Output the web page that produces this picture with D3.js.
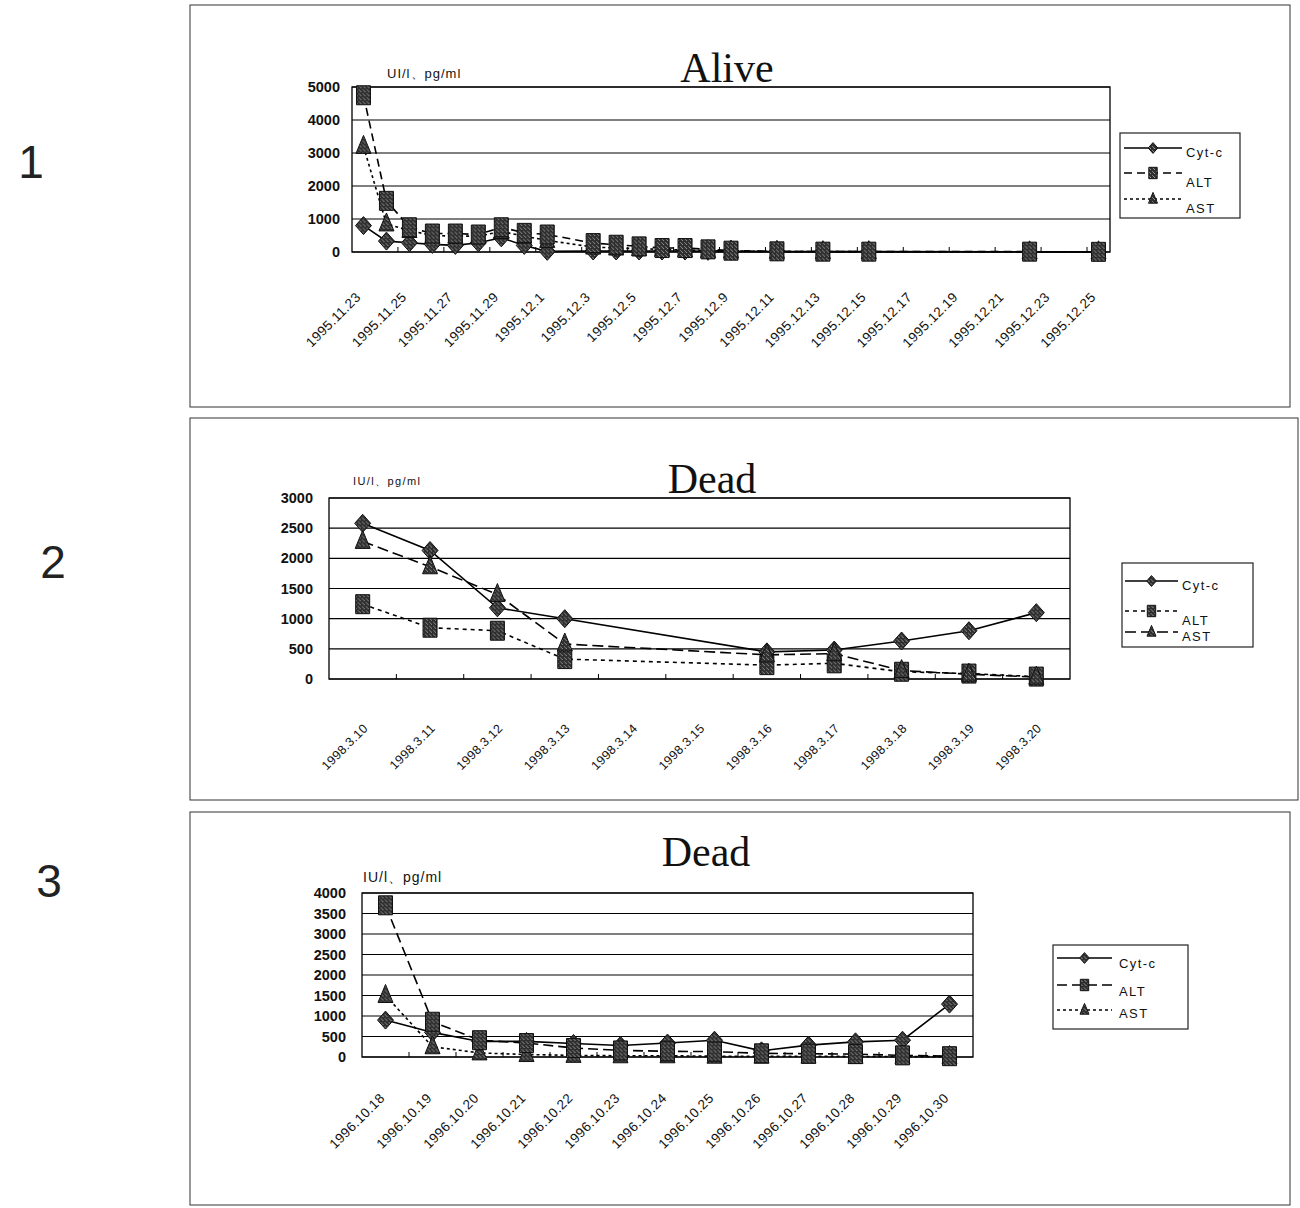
<!DOCTYPE html>
<html>
<head>
<meta charset="utf-8">
<script src="https://cdn.jsdelivr.net/npm/d3@7"></script>
<style>
  body { margin: 0; background: #fff; }
  svg { display: block; }
</style>
</head>
<body>
<svg id="chart" width="1300" height="1208"></svg>
<script>
// ---------- Case 1: Alive ----------
const aliveDates = ["1995.11.23","1995.11.24","1995.11.25","1995.11.26","1995.11.27","1995.11.28","1995.11.29","1995.11.30",
  "1995.12.1","1995.12.2","1995.12.3","1995.12.4","1995.12.5","1995.12.6","1995.12.7","1995.12.8","1995.12.9","1995.12.10",
  "1995.12.11","1995.12.12","1995.12.13","1995.12.14","1995.12.15","1995.12.16","1995.12.17","1995.12.18","1995.12.19",
  "1995.12.20","1995.12.21","1995.12.22","1995.12.23","1995.12.24","1995.12.25"];
const aliveTickLabels = ["1995.11.23","1995.11.25","1995.11.27","1995.11.29","1995.12.1","1995.12.3","1995.12.5","1995.12.7",
  "1995.12.9","1995.12.11","1995.12.13","1995.12.15","1995.12.17","1995.12.19","1995.12.21","1995.12.23","1995.12.25"];
const aliveCytc = [800,330,280,230,200,280,430,200,20, null, 30,30,30,30,30,20,20, null, 10, null, 10, null, 10,
  null,null,null,null,null,null, 5, null,null, 5];
const aliveALT  = [4750,1550,750,560,560,530,750,580,530, null, 270,220,170,120,120,80,40, null, 20, null, 10, null, 10,
  null,null,null,null,null,null, 10, null,null, 5];
const aliveAST  = [3200,850,650,500,480,480,620,480,350, null, 150,120,100,80,60,40,30, null, 20, null, 10, null, 10,
  null,null,null,null,null,null, 5, null,null, 5];
const aliveYTicks = [0,1000,2000,3000,4000,5000];

// ---------- Case 2: Dead (1998) ----------
const dead2Dates = ["1998.3.10","1998.3.11","1998.3.12","1998.3.13","1998.3.14","1998.3.15","1998.3.16","1998.3.17",
  "1998.3.18","1998.3.19","1998.3.20"];
const dead2Cytc = [2580,2130,1180,1000,null,null,450,480,630,800,1100];
const dead2ALT  = [1240,850,800,330,null,null,230,260,120,90,40];
const dead2AST  = [2280,1860,1400,580,null,null,400,420,140,80,30];
const dead2YTicks = [0,500,1000,1500,2000,2500,3000];

// ---------- Case 3: Dead (1996) ----------
const dead3Dates = ["1996.10.18","1996.10.19","1996.10.20","1996.10.21","1996.10.22","1996.10.23","1996.10.24",
  "1996.10.25","1996.10.26","1996.10.27","1996.10.28","1996.10.29","1996.10.30"];
const dead3Cytc = [900,600,380,380,330,280,340,410,150,290,370,410,1290];
const dead3ALT  = [3700,860,410,340,220,160,140,130,90,80,70,40,20];
const dead3AST  = [1500,250,100,60,40,30,30,20,20,20,15,10,10];
const dead3YTicks = [0,500,1000,1500,2000,2500,3000,3500,4000];

const seriesNames = ["Cyt-c","ALT","AST"];

const svg = d3.select("#chart");
svg.append("rect").attr("width",1300).attr("height",1208).attr("fill","#fff");

// grainy fill used by the markers
const defs = svg.append("defs");
const pat = defs.append("pattern").attr("id","grain").attr("width",4).attr("height",4)
  .attr("patternUnits","userSpaceOnUse");
pat.append("rect").attr("width",4).attr("height",4).attr("fill","#2e2e2e");
pat.append("rect").attr("x",1).attr("y",0).attr("width",1).attr("height",1).attr("fill","#9a9a9a");
pat.append("rect").attr("x",3).attr("y",2).attr("width",1).attr("height",1).attr("fill","#7a7a7a");
pat.append("rect").attr("x",0).attr("y",3).attr("width",1).attr("height",1).attr("fill","#8a8a8a");

const shapes = {
  diamond: (s) => `M0,${-9*s}L${8*s},0L0,${9*s}L${-8*s},0Z`,
  square:  (s) => `M${-7*s},${-9.5*s}H${7*s}V${9.5*s}H${-7*s}Z`,
  triangle:(s) => `M0,${-11*s}L${7.5*s},${7*s}L${-7.5*s},${7*s}Z`
};

function drawPanel(p) {
  const g = svg.append("g");

  // outer frame and case number
  g.append("rect").attr("x",p.frame[0]).attr("y",p.frame[1]).attr("width",p.frame[2]).attr("height",p.frame[3])
    .attr("fill","none").attr("stroke","#333").attr("stroke-width",1);
  g.append("text").attr("x",p.num[0]).attr("y",p.num[1]).attr("text-anchor","middle")
    .attr("font-family","Liberation Sans, Arial, sans-serif").attr("font-size",46).attr("fill","#222")
    .text(p.numText);

  const x = d3.scaleBand().domain(p.dates).range([p.left, p.right]).padding(0);
  const y = d3.scaleLinear().domain([0, p.yMax]).range([p.bottom, p.top]);
  const bw = x.bandwidth();
  const cx = d => x(d) + bw / 2;

  // horizontal gridlines
  g.append("g").selectAll("line").data(p.yTicks).join("line")
    .attr("x1",p.left).attr("x2",p.right).attr("y1",d=>y(d)).attr("y2",d=>y(d))
    .attr("stroke","#000").attr("stroke-width",1.1);

  // plot area border
  g.append("rect").attr("x",p.left).attr("y",p.top).attr("width",p.right-p.left).attr("height",p.bottom-p.top)
    .attr("fill","none").attr("stroke","#000").attr("stroke-width",1.3);

  // inward category tick marks on the x axis
  const tickIdx = d3.range(p.tickEvery, p.dates.length, p.tickEvery);
  g.append("g").selectAll("line").data(tickIdx).join("line")
    .attr("x1",i=>p.left+i*bw).attr("x2",i=>p.left+i*bw)
    .attr("y1",p.bottom).attr("y2",p.bottom-5).attr("stroke","#000");

  // y axis labels
  const ya = g.append("g").attr("transform",`translate(${p.left},0)`)
    .call(d3.axisLeft(y).tickValues(p.yTicks).tickSize(0).tickPadding(p.yPad).tickFormat(d3.format("d")));
  ya.select(".domain").remove();
  ya.selectAll("text").attr("font-family","Liberation Sans, Arial, sans-serif").attr("font-size",14.5)
    .attr("font-weight","bold").attr("fill","#111");

  // x axis labels, rotated
  const xa = g.append("g").attr("transform",`translate(0,${p.bottom})`)
    .call(d3.axisBottom(x).tickValues(p.tickLabels).tickSize(0));
  xa.select(".domain").remove();
  xa.selectAll("text")
    .attr("x",0).attr("y",0).attr("dy",0)
    .attr("text-anchor","end")
    .attr("transform",`translate(${p.lab[0]},${p.lab[1]}) rotate(-45)`)
    .attr("font-family","Liberation Sans, Arial, sans-serif").attr("font-size",p.labSize)
    .attr("letter-spacing",0.4).attr("fill","#111");

  // series lines
  const series = p.series;
  const line = d3.line().x(d=>cx(d.date)).y(d=>y(d.v));
  series.forEach(s => {
    const pts = p.dates.map((d,i)=>({date:d, v:s.values[i]})).filter(d=>d.v!=null);
    g.append("path").datum(pts).attr("d",line).attr("fill","none")
      .attr("stroke","#000").attr("stroke-width",1.6).attr("stroke-dasharray",s.dash);
  });

  // markers (drawn after all lines)
  p.markerOrder.forEach(k => {
    const s = series[k];
    const pts = p.dates.map((d,i)=>({date:d, v:s.values[i]})).filter(d=>d.v!=null);
    g.append("g").selectAll("path").data(pts).join("path")
      .attr("d",shapes[s.shape](1))
      .attr("transform",d=>`translate(${cx(d.date)},${y(d.v)})`)
      .attr("fill","url(#grain)").attr("stroke","#111").attr("stroke-width",1);
  });

  // title and unit
  g.append("text").attr("x",p.title[0]).attr("y",p.title[1]).attr("text-anchor","middle")
    .attr("font-family","Liberation Serif, Times New Roman, serif").attr("font-size",42).attr("fill","#111")
    .text(p.titleText);
  g.append("text").attr("x",p.unit[0]).attr("y",p.unit[1])
    .attr("font-family","Liberation Sans, Arial, sans-serif").attr("font-size",p.unitSize)
    .attr("letter-spacing",p.unitSpacing).attr("fill","#111")
    .text(p.unitText);

  // legend
  const L = p.legend;
  g.append("rect").attr("x",L.x).attr("y",L.y).attr("width",L.w).attr("height",L.h)
    .attr("fill","#fff").attr("stroke","#222").attr("stroke-width",1.2);
  series.forEach((s,i) => {
    const ly = L.rows[i];
    g.append("line").attr("x1",L.lx0).attr("x2",L.lx1).attr("y1",ly).attr("y2",ly)
      .attr("stroke","#000").attr("stroke-width",1.6).attr("stroke-dasharray",s.dash);
    g.append("path").attr("d",shapes[s.shape](0.6)).attr("transform",`translate(${(L.lx0+L.lx1)/2},${ly})`)
      .attr("fill","url(#grain)").attr("stroke","#111");
    g.append("text").attr("x",L.tx).attr("y",ly+L.textDy[i])
      .attr("font-family","Liberation Sans, Arial, sans-serif").attr("font-size",13)
      .attr("letter-spacing",1.4).attr("fill","#111").text(seriesNames[i]);
  });
}

drawPanel({
  frame:[190,5,1100,402], num:[31,178], numText:"1",
  dates:aliveDates, tickLabels:aliveTickLabels, tickEvery:2,
  left:352, right:1110, top:87, bottom:252, yMax:5000, yTicks:aliveYTicks, yPad:12,
  lab:[-2,46], labSize:13.5,
  series:[
    {values:aliveCytc, shape:"diamond", dash:null},
    {values:aliveALT,  shape:"square",  dash:"8,5"},
    {values:aliveAST,  shape:"triangle",dash:"3,3"}
  ],
  markerOrder:[0,2,1],
  title:[727,82], titleText:"Alive",
  unit:[387,78], unitSize:13, unitSpacing:1, unitText:"UI/l、pg/ml",
  legend:{x:1120,y:133,w:120,h:85, lx0:1124,lx1:1182, tx:1186, rows:[148,173,199], textDy:[9,14,14]}
});

drawPanel({
  frame:[190,418,1108,382], num:[53,578], numText:"2",
  dates:dead2Dates, tickLabels:dead2Dates, tickEvery:1,
  left:329, right:1070, top:498, bottom:679, yMax:3000, yTicks:dead2YTicks, yPad:16,
  lab:[6,50], labSize:12.5,
  series:[
    {values:dead2Cytc, shape:"diamond", dash:null},
    {values:dead2ALT,  shape:"square",  dash:"4,4"},
    {values:dead2AST,  shape:"triangle",dash:"11,5"}
  ],
  markerOrder:[0,1,2],
  title:[712,493], titleText:"Dead",
  unit:[353,485], unitSize:11, unitSpacing:1.4, unitText:"IU/l、pg/ml",
  legend:{x:1122,y:563,w:131,h:84, lx0:1125,lx1:1178, tx:1182, rows:[581,611,632], textDy:[9,14,9]}
});

drawPanel({
  frame:[190,812,1100,393], num:[49,897], numText:"3",
  dates:dead3Dates, tickLabels:dead3Dates, tickEvery:1,
  left:362, right:973, top:893, bottom:1057, yMax:4000, yTicks:dead3YTicks, yPad:16,
  lab:[0,42], labSize:13.5,
  series:[
    {values:dead3Cytc, shape:"diamond", dash:null},
    {values:dead3ALT,  shape:"square",  dash:"10,5"},
    {values:dead3AST,  shape:"triangle",dash:"3,3"}
  ],
  markerOrder:[0,2,1],
  title:[706,866], titleText:"Dead",
  unit:[363,882], unitSize:14, unitSpacing:1, unitText:"IU/l、pg/ml",
  legend:{x:1053,y:945,w:135,h:84, lx0:1057,lx1:1112, tx:1119, rows:[958,985,1010], textDy:[10,11,8]}
});
</script>
</body>
</html>
